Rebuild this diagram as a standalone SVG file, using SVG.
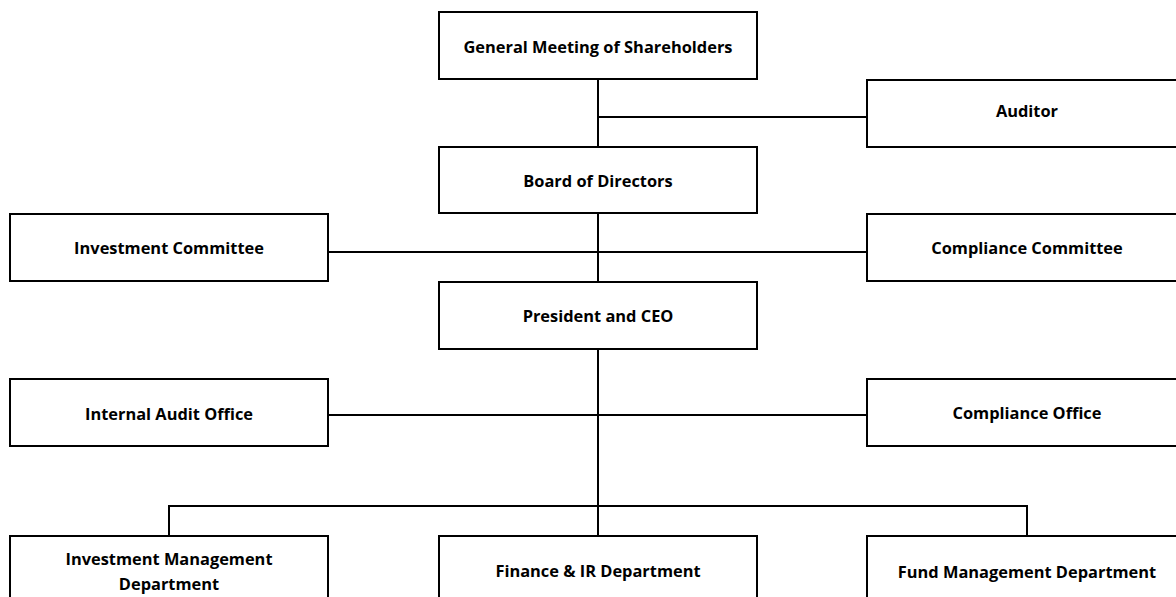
<svg xmlns="http://www.w3.org/2000/svg" width="1176" height="597" viewBox="0 0 1176 597">
<style>
.n{fill:#fff;stroke:#000;stroke-width:2}
line,polyline{stroke:#000;stroke-width:2;fill:none}
text{font-family:"Open Sans","Noto Sans","Liberation Sans",sans-serif;font-weight:bold;font-size:16.4px;text-anchor:middle;fill:#000}
</style>
<rect width="1176" height="597" fill="#fff"/>
<g id="connectors">
<line x1="598" y1="79" x2="598" y2="536"/>
<line x1="598" y1="117" x2="867" y2="117"/>
<line x1="328" y1="252" x2="867" y2="252"/>
<line x1="328" y1="415" x2="867" y2="415"/>
<polyline points="169,536 169,506 1027,506 1027,536"/>
</g>
<g id="gms"><rect class="n" x="439" y="12" width="318" height="67"/><text x="598" y="52.5">General Meeting of Shareholders</text></g>
<g id="auditor"><rect class="n" x="867" y="80" width="320" height="67"/><text x="1027" y="117">Auditor</text></g>
<g id="board"><rect class="n" x="439" y="147" width="318" height="66"/><text x="598" y="187">Board of Directors</text></g>
<g id="invcom"><rect class="n" x="10" y="214" width="318" height="67"/><text x="169" y="254">Investment Committee</text></g>
<g id="compcom"><rect class="n" x="867" y="214" width="320" height="67"/><text x="1027" y="254">Compliance Committee</text></g>
<g id="ceo"><rect class="n" x="439" y="282" width="318" height="67"/><text x="598" y="322">President and CEO</text></g>
<g id="iao"><rect class="n" x="10" y="379" width="318" height="67"/><text x="169" y="420">Internal Audit Office</text></g>
<g id="compoff"><rect class="n" x="867" y="379" width="320" height="67"/><text x="1027" y="419">Compliance Office</text></g>
<g id="imd"><rect class="n" x="10" y="536" width="318" height="67"/><text x="169" y="565">Investment Management</text><text x="169" y="590">Department</text></g>
<g id="fin"><rect class="n" x="439" y="536" width="318" height="67"/><text x="598" y="577">Finance &amp; IR Department</text></g>
<g id="fmd"><rect class="n" x="867" y="536" width="320" height="67"/><text x="1027" y="578">Fund Management Department</text></g>
</svg>
